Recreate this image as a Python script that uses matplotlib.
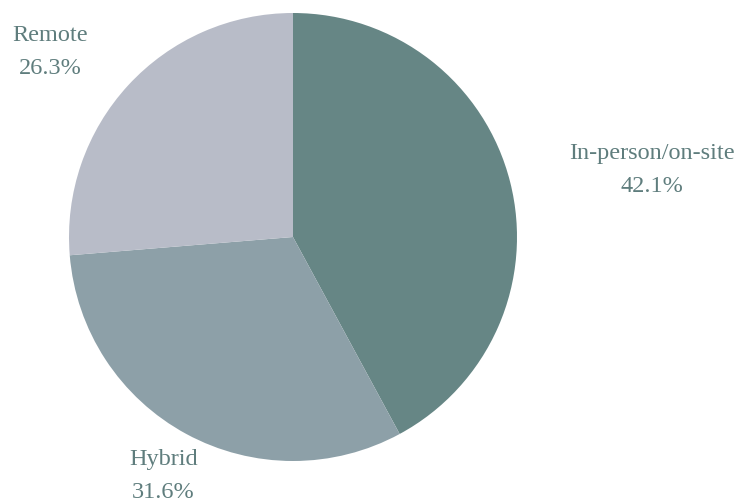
import matplotlib
matplotlib.use("Agg")
import matplotlib.pyplot as plt
import numpy as np

categories = ["In-person/on-site", "Hybrid", "Remote"]
values = [42.1, 31.6, 26.3]
colors = ["#668685", "#8da0a8", "#b8bcc8"]
text_color = "#5f7d7d"
# label offsets from slice edge (pixels)
label_offsets = [(142, 12), (-23, -42), (-78, 33)]

W, H = 748, 504
fig = plt.figure(figsize=(W / 100, H / 100), dpi=100)
ax = fig.add_axes([0, 0, 1, 1])
cx, cy, R = 293, H - 237, 224
wedges, _ = ax.pie(values, colors=colors, startangle=90, counterclock=False,
                   center=(cx, cy), radius=R,
                   wedgeprops=dict(linewidth=0))
ax.set_xlim(0, W)
ax.set_ylim(0, H)
ax.set_aspect("equal")
ax.axis("off")

for w, cat, v, off in zip(wedges, categories, values, label_offsets):
    ang = np.deg2rad((w.theta1 + w.theta2) / 2)
    ex, ey = cx + R * np.cos(ang), cy + R * np.sin(ang)
    ax.annotate(f"{cat}\n{v:.1f}%", xy=(ex, ey), xytext=off,
                textcoords="offset pixels", ha="center", va="center",
                fontsize=17.5, color=text_color, family="Liberation Serif",
                linespacing=1.75)

fig.savefig("out.png", dpi=100)
